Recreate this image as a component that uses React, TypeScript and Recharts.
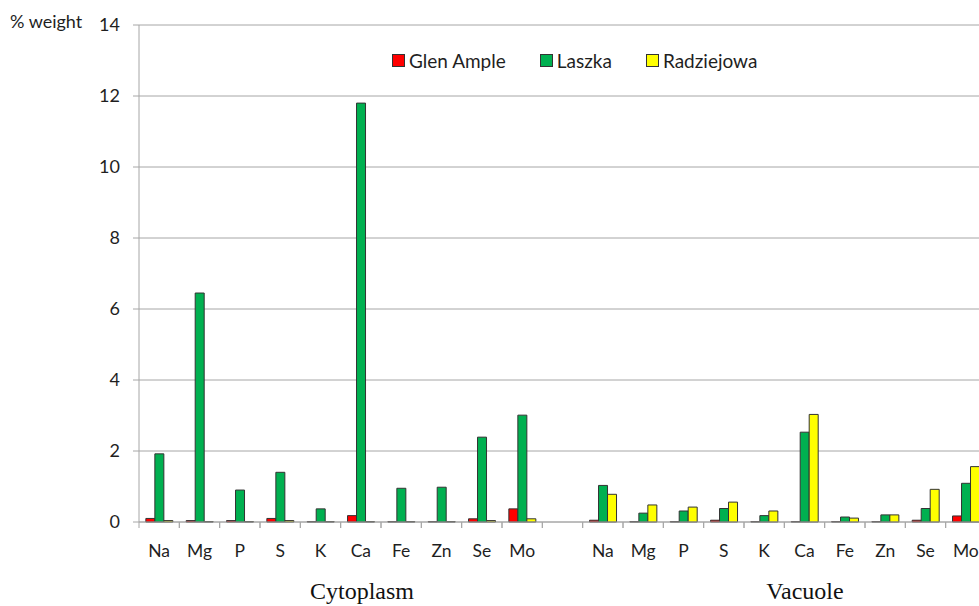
import React from 'react';
import { BarChart, Bar, XAxis, YAxis, CartesianGrid, Legend } from 'recharts';

// elements measured in each compartment
const elements = ['Na', 'Mg', 'P', 'S', 'K', 'Ca', 'Fe', 'Zn', 'Se', 'Mo'];

// Cytoplasm, % weight
const glenCyto = [0.1, 0.04, 0.04, 0.1, 0.01, 0.18, 0.01, 0.01, 0.09, 0.37];
const laszkaCyto = [1.92, 6.45, 0.9, 1.4, 0.37, 11.8, 0.95, 0.98, 2.39, 3.01];
const radzCyto = [0.04, 0.01, 0.01, 0.04, 0.01, 0.01, 0.01, 0.01, 0.04, 0.09];

// Vacuole, % weight
const glenVac = [0.05, 0.01, 0.01, 0.05, 0.01, 0.01, 0.01, 0.01, 0.05, 0.17];
const laszkaVac = [1.03, 0.25, 0.31, 0.38, 0.18, 2.53, 0.14, 0.2, 0.38, 1.09];
const radzVac = [0.78, 0.48, 0.42, 0.56, 0.31, 3.03, 0.11, 0.2, 0.92, 1.56];

const yTicks = [0, 2, 4, 6, 8, 10, 12, 14];

const series = [
  { key: 'glen', name: 'Glen Ample', color: '#ff0000' },
  { key: 'laszka', name: 'Laszka', color: '#00b050' },
  { key: 'radz', name: 'Radziejowa', color: '#ffff00' },
];

const data = [
  ...elements.map((el, i) => ({ key: `c-${el}`, label: el, glen: glenCyto[i], laszka: laszkaCyto[i], radz: radzCyto[i] })),
  { key: 'gap', label: '', glen: null, laszka: null, radz: null },
  ...elements.map((el, i) => ({ key: `v-${el}`, label: el, glen: glenVac[i], laszka: laszkaVac[i], radz: radzVac[i] })),
];

const FONT = 'Lato, "Noto Sans", sans-serif';
const AXIS = '#a6a6a6';
const TEXT = '#1f1f1f';

// Excel-style ticks: marks sit between categories, labels in the middle
const CategoryTick = (props: any) => {
  const { x, y, payload, index } = props;
  const half = payload && payload.offset ? payload.offset : 20.17;
  const row = data[index] || data.find((d) => d.key === payload.value);
  return (
    <g>
      <line x1={x - half} y1={y} x2={x - half} y2={y + 6} stroke={AXIS} />
      <line x1={x + half} y1={y} x2={x + half} y2={y + 6} stroke={AXIS} />
      <text x={x} y={y + 35} textAnchor="middle" fill={TEXT} fontSize={17.5} fontFamily={FONT}>
        {row ? row.label : ''}
      </text>
    </g>
  );
};

const LegendContent = () => (
  <div style={{ display: 'flex', gap: 34, fontFamily: FONT, fontSize: 19, color: TEXT }}>
    {series.map((s) => (
      <div key={s.key} style={{ display: 'flex', alignItems: 'center' }}>
        <span style={{ width: 11, height: 11, background: s.color, border: '1px solid #333', marginRight: 4 }} />
        <span>{s.name}</span>
      </div>
    ))}
  </div>
);

export default function App() {
  return (
    <div style={{ position: 'absolute', left: 0, top: 0, width: 979, height: 606, overflow: 'hidden', background: '#fff' }}>
      <div style={{ position: 'absolute', left: 10, top: 10, fontFamily: FONT, fontSize: 18, color: TEXT }}>% weight</div>
      <BarChart
        width={1000}
        height={606}
        data={data}
        margin={{ top: 25, right: 14, bottom: 54, left: 0 }}
        barCategoryGap="17%"
        barGap={0}
      >
        <CartesianGrid vertical={false} stroke={AXIS} />
        <XAxis
          dataKey="key"
          height={30}
          interval={0}
          axisLine={{ stroke: AXIS }}
          tickLine={false}
          tickSize={0}
          tickMargin={0}
          tick={<CategoryTick />}
        />
        <YAxis
          width={139}
          domain={[0, 14]}
          ticks={yTicks}
          axisLine={{ stroke: AXIS }}
          tickLine={{ stroke: AXIS }}
          tickSize={6}
          tickMargin={13}
          tick={{ fill: TEXT, fontSize: 18, fontFamily: FONT }}
        />
        <Legend
          layout="horizontal"
          verticalAlign="middle"
          content={<LegendContent />}
          wrapperStyle={{ position: 'absolute', top: 49, left: 392, width: 430 }}
        />
        {series.map((s) => (
          <Bar key={s.key} dataKey={s.key} name={s.name} fill={s.color} stroke="#333" strokeWidth={1} isAnimationActive={false} />
        ))}
      </BarChart>
      <div style={{ position: 'absolute', left: 362, top: 578, transform: 'translateX(-50%)', fontFamily: '"Liberation Serif", "Times New Roman", serif', fontSize: 24, color: '#111' }}>Cytoplasm</div>
      <div style={{ position: 'absolute', left: 805, top: 578, transform: 'translateX(-50%)', fontFamily: '"Liberation Serif", "Times New Roman", serif', fontSize: 24, color: '#111' }}>Vacuole</div>
    </div>
  );
}
